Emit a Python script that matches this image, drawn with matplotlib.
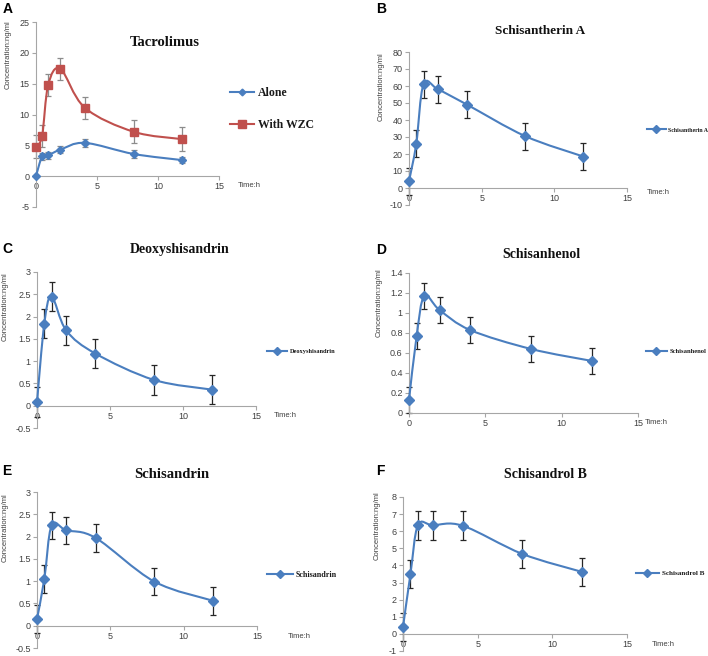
"""Six-panel PK profile figure (Excel-style smoothed lines with error bars)."""
import matplotlib
matplotlib.use("Agg")
import matplotlib.pyplot as plt
import numpy as np
from matplotlib.path import Path
from matplotlib.patches import PathPatch
from matplotlib.lines import Line2D
from matplotlib.ticker import FuncFormatter

# ---- data -------------------------------------------------------------
time_h = [0, 0.5, 1, 2, 4, 8, 12]

tac_alone = [0.0, 3.2, 3.4, 4.3, 5.4, 3.6, 2.6]
tac_alone_sd = [0.0, 0.6, 0.6, 0.6, 0.6, 0.6, 0.5]
tac_wzc = [4.8, 6.5, 14.8, 17.4, 11.1, 7.2, 6.0]
tac_wzc_sd = [1.8, 1.8, 1.8, 1.8, 1.8, 1.9, 1.9]

schisantherin_a = [4.0, 26.0, 61.0, 58.0, 49.0, 30.5, 18.5]
schisantherin_a_sd = [8.0, 8.0, 8.0, 8.0, 8.0, 8.0, 8.0]

deoxyshisandrin = [0.08, 1.84, 2.45, 1.69, 1.17, 0.58, 0.36]
deoxyshisandrin_sd = [0.33, 0.33, 0.33, 0.33, 0.33, 0.33, 0.33]

schisanhenol = [0.13, 0.77, 1.17, 1.03, 0.83, 0.64, 0.52]
schisanhenol_sd = [0.13, 0.13, 0.13, 0.13, 0.13, 0.13, 0.13]

schisandrin = [0.15, 1.05, 2.25, 2.14, 1.97, 0.99, 0.56]
schisandrin_sd = [0.31, 0.31, 0.31, 0.31, 0.31, 0.31, 0.31]

schisandrol_b = [0.4, 3.5, 6.35, 6.35, 6.32, 4.67, 3.62]
schisandrol_b_sd = [0.84, 0.84, 0.84, 0.84, 0.84, 0.84, 0.84]

BLUE = "#4A7EBF"
RED = "#C0504D"
AXC = "#A6A6A6"
TXT = "#404040"
SERIF = "Liberation Serif"
SANS = "Liberation Sans"

W, H = 708, 656


def fx(px):
    return px / W


def fy(py):
    return 1 - py / H


def smooth_path(x, y):
    # Catmull-Rom style Bezier through the points, like Excel's smoothed line
    pts = np.column_stack([x, y]).astype(float)
    n = len(pts)
    verts = [pts[0]]
    codes = [Path.MOVETO]
    for i in range(n - 1):
        p0 = pts[i - 1] if i > 0 else pts[i]
        p1, p2 = pts[i], pts[i + 1]
        p3 = pts[i + 2] if i + 2 < n else pts[i + 1]
        verts += [p1 + (p2 - p0) / 6, p2 - (p3 - p1) / 6, p2]
        codes += [Path.CURVE4] * 3
    return Path(verts, codes)


fig = plt.figure(figsize=(W / 100, H / 100), dpi=100)

# (letter, axes box px [l, t, r, b], ylim, ystep, title, title xy px, title size,
#  letter xy px, ylabel xy px, time-label axes-frac x, time offset px, legend xy px)
panels = [
    ("A", (36, 22, 219, 207), (-5, 25), 5, "Tacrolimus", (165, 43), 10.5,
     (3, 2), (8, 20), 1.10, 9, (230, 109)),
    ("B", (409, 52, 627, 205), (-10, 80), 10, "Schisantherin A", (540, 31), 9.5,
     (376, 2), (381, 52), 1.09, 5, (647, 130)),
    ("C", (37, 272, 256, 428), (-0.5, 3), 0.5, "Deoxyshisandrin", (180, 250), 10,
     (2, 242), (5, 272), 1.08, 10, (267, 351)),
    ("D", (409, 273, 638, 413), (0, 1.4), 0.2, "Schisanhenol", (541, 254), 10,
     (376, 243), (379, 268), 1.03, 10, (646, 351)),
    ("E", (37, 492, 257, 648), (-0.5, 3), 0.5, "Schisandrin", (172, 474), 10.5,
     (2, 464), (5, 493), 1.14, 11, (267, 575)),
    ("F", (403, 497, 627, 651), (-1, 8), 1, "Schisandrol B", (545, 474), 10,
     (376, 464), (377, 491), 1.11, 11, (636, 573)),
]

series = [
    [("Alone", tac_alone, tac_alone_sd, BLUE, "D", 3.8, "#8C8C8C"),
     ("With WZC", tac_wzc, tac_wzc_sd, RED, "s", 5.8, "#8C8C8C")],
    [("Schisantherin A", schisantherin_a, schisantherin_a_sd, BLUE, "D", 4.6, "#262626")],
    [("Deoxyshisandrin", deoxyshisandrin, deoxyshisandrin_sd, BLUE, "D", 4.6, "#262626")],
    [("Schisanhenol", schisanhenol, schisanhenol_sd, BLUE, "D", 4.6, "#262626")],
    [("Schisandrin", schisandrin, schisandrin_sd, BLUE, "D", 4.6, "#262626")],
    [("Schisandrol B", schisandrol_b, schisandrol_b_sd, BLUE, "D", 4.6, "#262626")],
]
legend_sizes = [8.5, 4.2, 4.6, 4.7, 5.8, 5.1]

for spec, ser, lsize in zip(panels, series, legend_sizes):
    (letter, box, ylim, ystep, title, txy, tsize, lxy, ylxy,
     time_x, time_off, legxy) = spec
    l, t, r, b = box
    ax = fig.add_axes([fx(l), fy(b), fx(r) - fx(l), fy(t) - fy(b)])
    ax.set_xlim(0, 15)
    ax.set_ylim(*ylim)
    ax.set_xticks([0, 5, 10, 15])
    ax.set_yticks(np.arange(ylim[0], ylim[1] + ystep / 2, ystep))
    ax.yaxis.set_major_formatter(FuncFormatter(lambda v, p: f"{round(v, 3):g}"))
    for s in ("top", "right"):
        ax.spines[s].set_visible(False)
    ax.spines["bottom"].set_position(("data", 0))
    for s in ("left", "bottom"):
        ax.spines[s].set_color(AXC)
        ax.spines[s].set_linewidth(0.8)
    ax.tick_params(axis="both", length=3, width=0.8, color=AXC,
                   labelsize=6.5, labelcolor=TXT, pad=1.5)
    for lab in ax.get_xticklabels() + ax.get_yticklabels():
        lab.set_fontfamily(SANS)
    ax.patch.set_alpha(0)

    handles = []
    for name, vals, sd, col, mk, ms, ecol in ser:
        ax.errorbar(time_h, vals, yerr=sd, fmt="none", ecolor=ecol,
                    elinewidth=0.9, capsize=2.2, capthick=0.9, clip_on=False,
                    zorder=2)
        ax.add_patch(PathPatch(smooth_path(time_h, vals), fill=False,
                               edgecolor=col, lw=1.5, clip_on=False, zorder=3))
        ax.plot(time_h, vals, ls="none", marker=mk, ms=ms, color=col,
                clip_on=False, zorder=4)
        handles.append(Line2D([0], [0], color=col, lw=1.5, marker=mk,
                              ms=ms * 0.9, label=name))

    leg = ax.legend(handles=handles, loc="center left",
                    bbox_to_anchor=(fx(legxy[0]), fy(legxy[1])),
                    bbox_transform=fig.transFigure, frameon=False,
                    prop={"family": SERIF, "weight": "bold", "size": lsize},
                    handlelength=2.0 if letter == "A" else 3.2,
                    handletextpad=0.4, borderpad=0, borderaxespad=0,
                    labelspacing=1.7)
    for txt in leg.get_texts():
        txt.set_color("#1a1a1a")

    fig.text(fx(txy[0]), fy(txy[1]), title, ha="center", va="center",
             family=SERIF, weight="bold", size=tsize, color="#111111")
    fig.text(fx(lxy[0]), fy(lxy[1]), letter, ha="left", va="top",
             family=SANS, weight="bold", size=10, color="black")
    fig.text(fx(ylxy[0]), fy(ylxy[1]), "Concentration:ng/ml", rotation=90,
             ha="center", va="top", family=SANS, size=5.5, color=TXT)
    ax.annotate("Time:h", xy=(time_x, 0), xycoords=("axes fraction", "data"),
                xytext=(0, -time_off * 0.72), textcoords="offset points",
                ha="left", va="center", family=SANS, size=5.5, color=TXT,
                annotation_clip=False)

fig.savefig("out.png", dpi=100)
